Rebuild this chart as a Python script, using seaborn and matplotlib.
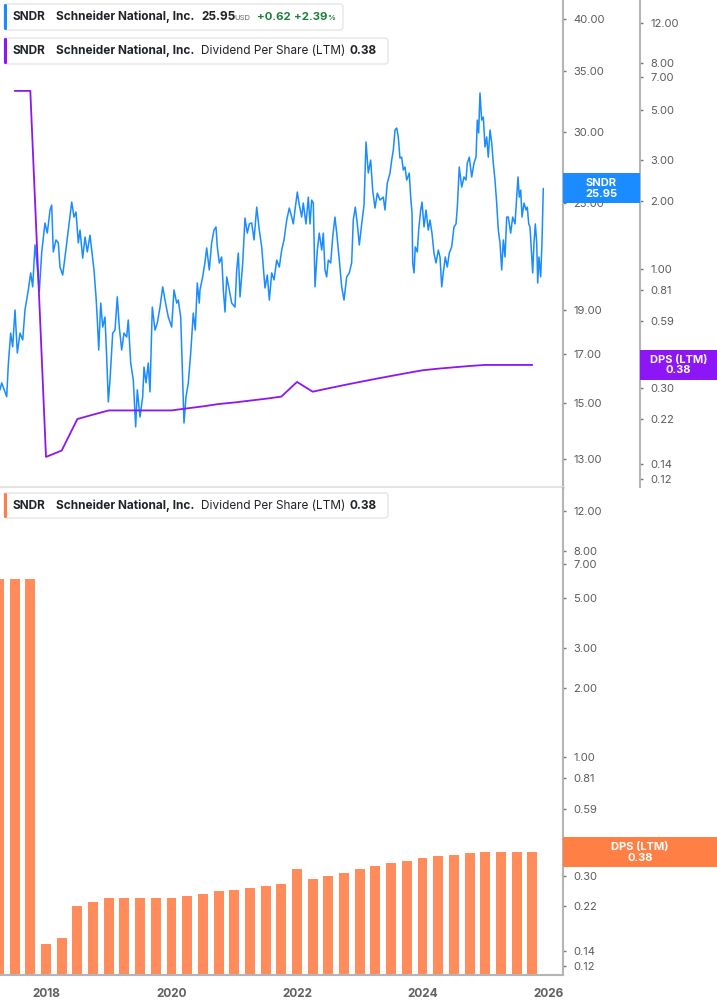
import matplotlib
matplotlib.use("Agg")
import matplotlib.pyplot as plt
import seaborn as sns
from matplotlib.patches import FancyBboxPatch, Rectangle
from matplotlib.ticker import FuncFormatter, NullLocator

# daily close of SNDR (decimal year, USD)
price_years = [
    2017.267, 2017.294, 2017.347, 2017.374, 2017.399, 2017.437, 2017.469, 2017.506, 2017.543, 2017.586,
    2017.629, 2017.665, 2017.718, 2017.756, 2017.788, 2017.825, 2017.852, 2017.893, 2017.932, 2017.984,
    2018.021, 2018.064, 2018.091, 2018.116, 2018.159, 2018.196, 2018.223, 2018.266, 2018.303, 2018.355,
    2018.410, 2018.446, 2018.478, 2018.515, 2018.542, 2018.585, 2018.622, 2018.658, 2018.701, 2018.728,
    2018.765, 2018.797, 2018.818, 2018.840, 2018.872, 2018.904, 2018.940, 2018.967, 2018.993, 2019.020,
    2019.063, 2019.100, 2019.136, 2019.168, 2019.206, 2019.243, 2019.286, 2019.311, 2019.350, 2019.391,
    2019.429, 2019.455, 2019.498, 2019.541, 2019.562, 2019.594, 2019.630, 2019.657, 2019.694, 2019.737,
    2019.774, 2019.817, 2019.860, 2019.896, 2019.949, 2020.003, 2020.040, 2020.083, 2020.108, 2020.147,
    2020.179, 2020.199, 2020.231, 2020.268, 2020.306, 2020.347, 2020.379, 2020.411, 2020.443, 2020.454,
    2020.497, 2020.534, 2020.561, 2020.602, 2020.640, 2020.677, 2020.709, 2020.730, 2020.762, 2020.800,
    2020.826, 2020.853, 2020.880, 2020.921, 2020.959, 2021.012, 2021.039, 2021.065, 2021.092, 2021.135,
    2021.171, 2021.208, 2021.240, 2021.278, 2021.315, 2021.358, 2021.399, 2021.437, 2021.463, 2021.490,
    2021.527, 2021.559, 2021.597, 2021.634, 2021.677, 2021.718, 2021.756, 2021.793, 2021.836, 2021.877,
    2021.916, 2021.941, 2021.968, 2022.005, 2022.037, 2022.075, 2022.100, 2022.143, 2022.180, 2022.207,
    2022.234, 2022.260, 2022.287, 2022.324, 2022.355, 2022.394, 2022.419, 2022.446, 2022.473, 2022.499,
    2022.537, 2022.569, 2022.605, 2022.633, 2022.674, 2022.712, 2022.749, 2022.792, 2022.833, 2022.871,
    2022.897, 2022.929, 2022.961, 2022.993, 2023.031, 2023.068, 2023.100, 2023.136, 2023.174, 2023.206,
    2023.243, 2023.280, 2023.323, 2023.375, 2023.402, 2023.439, 2023.482, 2023.509, 2023.535, 2023.562,
    2023.589, 2023.614, 2023.641, 2023.668, 2023.694, 2023.721, 2023.748, 2023.789, 2023.812, 2023.833,
    2023.844, 2023.865, 2023.885, 2023.917, 2023.939, 2023.971, 2023.992, 2024.024, 2024.056, 2024.092,
    2024.119, 2024.151, 2024.183, 2024.215, 2024.252, 2024.279, 2024.306, 2024.331, 2024.363, 2024.395,
    2024.427, 2024.465, 2024.502, 2024.534, 2024.555, 2024.586, 2024.625, 2024.661, 2024.693, 2024.714,
    2024.746, 2024.784, 2024.821, 2024.853, 2024.873, 2024.895, 2024.916, 2024.943, 2024.969, 2024.996,
    2025.023, 2025.048, 2025.076, 2025.103, 2025.128, 2025.155, 2025.182, 2025.208, 2025.235, 2025.262,
    2025.288, 2025.315, 2025.342, 2025.367, 2025.405, 2025.437, 2025.474, 2025.501, 2025.522, 2025.543,
    2025.565, 2025.586, 2025.618, 2025.650, 2025.670, 2025.693, 2025.713, 2025.740, 2025.756, 2025.777,
    2025.798, 2025.820, 2025.836, 2025.856, 2025.883, 2025.904, 2025.925,
]
price_close = [
    15.51, 15.79, 15.43, 15.24, 16.53, 17.93, 17.31, 19.02, 17.04, 17.93,
    17.62, 19.02, 20.02, 20.91, 20.18, 22.46, 21.61, 19.92, 22.06, 23.76,
    23.15, 24.56, 24.87, 22.06, 22.75, 22.58, 21.23, 20.80, 21.78, 23.33,
    25.06, 24.12, 24.43, 22.58, 23.33, 21.72, 22.92, 22.06, 23.03, 22.17,
    21.07, 19.67, 18.54, 17.17, 19.36, 18.21, 18.68, 16.87, 15.04, 15.91,
    17.93, 18.07, 19.67, 18.21, 17.17, 17.93, 17.75, 18.54, 16.61, 15.91,
    14.11, 15.51, 14.47, 15.24, 16.44, 15.79, 16.61, 15.43, 19.16, 18.07,
    18.40, 19.16, 20.18, 19.51, 18.68, 18.21, 20.02, 19.36, 19.51, 18.68,
    15.79, 14.25, 15.24, 15.79, 17.04, 18.87, 18.07, 20.38, 19.36, 20.02,
    20.70, 21.50, 22.29, 21.07, 22.58, 23.33, 23.52, 22.35, 21.45, 21.78,
    20.02, 18.92, 20.70, 20.02, 19.36, 19.16, 21.07, 22.00, 19.67, 21.45,
    24.06, 23.15, 23.70, 23.76, 22.75, 24.74, 23.33, 22.35, 21.23, 20.12,
    20.80, 19.51, 20.91, 20.54, 21.61, 21.23, 22.17, 22.75, 23.94, 24.68,
    24.12, 23.70, 24.56, 25.71, 24.87, 24.12, 25.00, 23.70, 25.38, 23.70,
    25.19, 25.00, 20.18, 22.17, 23.15, 22.17, 23.15, 21.07, 20.70, 21.61,
    21.45, 22.92, 24.12, 23.15, 21.61, 20.18, 19.51, 20.70, 20.91, 21.45,
    23.94, 24.74, 23.70, 22.46, 23.70, 24.87, 29.22, 26.99, 27.90, 25.84,
    24.68, 25.64, 25.19, 25.38, 24.56, 26.31, 26.99, 27.90, 28.63, 30.13,
    30.28, 29.60, 28.04, 28.11, 27.20, 27.41, 26.51, 26.99, 25.38, 24.37,
    21.45, 20.91, 22.35, 22.06, 23.33, 24.56, 25.06, 23.52, 24.56, 23.33,
    23.94, 23.15, 22.00, 21.45, 22.17, 21.78, 20.18, 20.91, 21.78, 21.23,
    22.00, 22.35, 23.52, 23.70, 24.74, 27.41, 26.04, 26.72, 26.51, 27.69,
    28.11, 26.72, 27.69, 28.11, 30.90, 29.90, 33.12, 30.90, 31.14, 28.85,
    29.60, 28.11, 30.13, 29.15, 27.69, 26.51, 25.00, 23.33, 22.58, 21.07,
    22.75, 21.78, 24.12, 24.12, 23.15, 24.12, 23.70, 25.38, 26.72, 25.38,
    25.84, 24.12, 25.00, 24.56, 24.74, 23.70, 23.52, 21.78, 20.91, 22.58,
    23.70, 22.58, 20.38, 21.78, 20.70, 22.58, 25.95,
]

# quarterly dividend per share, last twelve months
dps_years = [
    2017.25, 2017.50, 2017.75, 2018.00, 2018.25, 2018.50, 2018.75, 2019.00, 2019.25,
    2019.50, 2019.75, 2020.00, 2020.25, 2020.50, 2020.75, 2021.00, 2021.25, 2021.50,
    2021.75, 2022.00, 2022.25, 2022.50, 2022.75, 2023.00, 2023.25, 2023.50, 2023.75,
    2024.00, 2024.25, 2024.50, 2024.75, 2025.00, 2025.25, 2025.50, 2025.75,
]
dps_ltm = [
    6.06, 6.06, 6.06, 0.15, 0.16, 0.22, 0.23, 0.24, 0.24,
    0.24, 0.24, 0.24, 0.245, 0.25, 0.256, 0.26, 0.265, 0.27,
    0.276, 0.32, 0.29, 0.30, 0.31, 0.32, 0.33, 0.34, 0.35,
    0.36, 0.366, 0.371, 0.376, 0.38, 0.38, 0.38, 0.38,
]

price_ticks = [13, 15, 17, 19, 25, 30, 35, 40]
dps_ticks = [0.12, 0.14, 0.22, 0.30, 0.37, 0.59, 0.81, 1, 2, 3, 5, 7, 8, 12]
year_ticks = [2018, 2020, 2022, 2024, 2026]

BLUE = "#1a8cff"
PURPLE = "#8c16f5"
ORANGE = "#ff8c5a"
ORANGE_BOX = "#ff7f45"
GREEN = "#1b7f3c"
SPINE = "#b5b5b5"
TICKTXT = "#5a5a5a"
INK = "#1f2328"

sns.set_style("white")
plt.rcParams["font.family"] = ["Inter", "DejaVu Sans"]

W, H = 717, 1005
fig = plt.figure(figsize=(W / 100, H / 100), dpi=100)
right = 563 / W

top = fig.add_axes([0, 1 - 487 / H, right, 487 / H])
ax2 = top.twinx()
bot = fig.add_axes([0, 30 / H, right, (975 - 488) / H])
xlim = (2017.267, 2026.239)
fmt2 = FuncFormatter(lambda v, _: f"{v:.2f}")


def style_y(ax, ticks, lim):
    ax.set_yscale("log")
    ax.set_ylim(*lim)
    ax.yaxis.tick_right()
    ax.set_yticks(ticks)
    ax.yaxis.set_minor_locator(NullLocator())
    ax.yaxis.set_major_formatter(fmt2)
    ax.tick_params(axis="y", which="major", direction="out", length=2.5, width=1,
                   color="#777777", pad=5, labelsize=8, labelcolor=TICKTXT)
    ax.set_ylabel("")
    ax.set_xlabel("")


# top panel: price line + DPS line on its own axis
sns.lineplot(x=price_years, y=price_close, ax=top, color=BLUE, linewidth=1.1,
             estimator=None, sort=False)
style_y(top, price_ticks, (12.10, 42.0))
top.set_xlim(*xlim)
top.set_xticks([])
for s in ["top", "left"]:
    top.spines[s].set_visible(False)
top.spines["right"].set_color(SPINE)
top.spines["right"].set_linewidth(1.5)
top.spines["bottom"].set_color("#e2e2e2")
top.spines["bottom"].set_linewidth(2)

sns.lineplot(x=dps_years[1:], y=dps_ltm[1:], ax=ax2, color=PURPLE, linewidth=1.3,
             estimator=None, sort=False)
style_y(ax2, dps_ticks, (0.1107, 15.18))
ax2.set_xlim(*xlim)
for s in ["top", "left", "bottom"]:
    ax2.spines[s].set_visible(False)
ax2.spines["right"].set_position(("axes", 640 / 563))
ax2.spines["right"].set_color(SPINE)
ax2.spines["right"].set_linewidth(1.5)

# bottom panel: DPS bars
bot.set_yscale("log")
sns.barplot(x=dps_years, y=dps_ltm, ax=bot, native_scale=True, color=ORANGE,
            saturation=1, width=0.63, errorbar=None, linewidth=0)
style_y(bot, dps_ticks, (0.110, 15.14))
bot.set_xlim(*xlim)
bot.set_xticks(year_ticks)
bot.set_xticklabels([str(y) for y in year_ticks], fontweight="bold")
bot.tick_params(axis="x", direction="out", length=5, width=1, color="#888888",
                pad=4, labelsize=8.5, labelcolor="#606060")
for s in ["top", "left"]:
    bot.spines[s].set_visible(False)
for s in ["right", "bottom"]:
    bot.spines[s].set_color(SPINE)
    bot.spines[s].set_linewidth(1.5)


def value_box(ax, value, x0, x1, color, text):
    yd = ax.transData.transform((xlim[0], value))[1]
    yf = fig.transFigure.inverted().transform((0, yd))[1]
    h = 30 / H
    fig.add_artist(Rectangle((x0 / W, yf - h / 2), (x1 - x0) / W, h,
                             transform=fig.transFigure, facecolor=color,
                             edgecolor="none", zorder=5))
    fig.text((x0 + x1) / 2 / W, yf, text, ha="center", va="center", color="white",
             fontweight="bold", fontsize=8, linespacing=1.05, zorder=6)


value_box(top, price_close[-1], 563, 640, BLUE, f"SNDR\n{price_close[-1]:.2f}")
value_box(ax2, dps_ltm[-1], 640, 717, PURPLE, f"DPS (LTM)\n{dps_ltm[-1]:.2f}")
value_box(bot, dps_ltm[-1], 563, 717, ORANGE_BOX, f"DPS (LTM)\n{dps_ltm[-1]:.2f}")


def legend_box(y0, y1, x1, color):
    # white rounded box with a coloured strip on the left (pixels -> inches)
    fig.add_artist(FancyBboxPatch((4 / 100, (H - y1) / 100), (x1 - 4) / 100, (y1 - y0) / 100,
                                  boxstyle="round,pad=0,rounding_size=0.03",
                                  transform=fig.dpi_scale_trans, facecolor="white",
                                  edgecolor="#e6e6e6", linewidth=1, zorder=4))
    fig.add_artist(FancyBboxPatch((4 / 100, (H - y1) / 100), 3 / 100, (y1 - y0) / 100,
                                  boxstyle="round,pad=0,rounding_size=0.012",
                                  transform=fig.dpi_scale_trans, facecolor=color,
                                  edgecolor="none", zorder=5))


def put(x, y, s, **kw):
    kw.setdefault("color", INK)
    kw.setdefault("fontsize", 8.5)
    fig.text(x / W, 1 - y / H, s, ha="left", va="center", zorder=6, **kw)


legend_box(4, 30, 343, BLUE)
put(13, 17, "SNDR", fontweight="bold")
put(56, 17, "Schneider National, Inc.", fontweight="bold")
put(201, 17, f"{price_close[-1]:.2f}", fontweight="bold")
put(234, 18, "USD", fontsize=5.5, color="#666666")
put(257, 17, "+0.62", fontweight="bold", color=GREEN, fontsize=8.2)
put(294, 17, "+2.39", fontweight="bold", color=GREEN, fontsize=8.2)
put(327, 18, "%", fontsize=5.5, color=GREEN, fontweight="bold")

for (y0, y1, col) in [(38, 64, PURPLE), (493, 518, ORANGE_BOX)]:
    yc = (y0 + y1) / 2
    legend_box(y0, y1, 388, col)
    put(13, yc, "SNDR", fontweight="bold")
    put(56, yc, "Schneider National, Inc.", fontweight="bold")
    put(201, yc, "Dividend Per Share (LTM)")
    put(350, yc, f"{dps_ltm[-1]:.2f}", fontweight="bold")

fig.savefig("out.png", dpi=100)
